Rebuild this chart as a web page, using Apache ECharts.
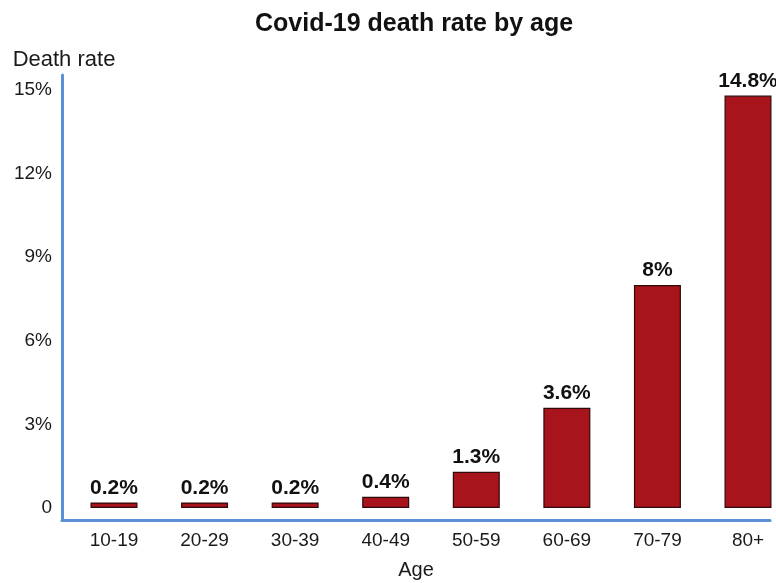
<!DOCTYPE html>
<html>
<head>
<meta charset="utf-8">
<script src="https://cdn.jsdelivr.net/npm/echarts@6/dist/echarts.min.js"></script>
<style>
  html, body { margin: 0; padding: 0; background: #fff; }
  #chart { width: 776px; height: 583px; }
</style>
</head>
<body>
<div id="chart"></div>
<script>
// Age groups and their death rates (%)
const ageGroups = ['10-19', '20-29', '30-39', '40-49', '50-59', '60-69', '70-79', '80+'];
const deathRates = [0.2, 0.2, 0.2, 0.4, 1.3, 3.6, 8, 14.8];
const rateTicks = [0, 3, 6, 9, 12, 15];

const FONT = '"Liberation Sans", Arial, Helvetica, sans-serif';
const AXIS_BLUE = '#5b8fd6';
const RATE_MIN = -0.43;
const RATE_MAX = 15.54;

const chart = echarts.init(document.getElementById('chart'), null, { renderer: 'canvas' });

chart.setOption({
  backgroundColor: '#ffffff',
  animation: false,
  title: {
    text: 'Covid-19 death rate by age',
    left: 250,
    top: 7,
    textStyle: { fontFamily: FONT, fontSize: 25, fontWeight: 'bold', color: '#111' }
  },
  grid: [
    // bar area: first and last category sit on the grid edges
    { left: 114, right: 28, top: 75, bottom: 63, containLabel: false, outerBoundsMode: 'none' },
    // frame carrying the blue axis lines and the rate labels
    { left: 62, right: 6, top: 75, bottom: 63, containLabel: false, outerBoundsMode: 'none' }
  ],
  xAxis: [
    {
      type: 'category',
      gridIndex: 0,
      data: ageGroups,
      boundaryGap: false,
      axisLine: { show: false, onZero: false },
      axisTick: { show: false },
      splitLine: { show: false },
      axisLabel: { fontFamily: FONT, fontSize: 19, color: '#1a1a1a', margin: 11 }
    },
    {
      type: 'value',
      gridIndex: 1,
      min: 0, max: 1,
      name: 'Age',
      nameLocation: 'middle',
      nameGap: 40,
      nameTextStyle: { fontFamily: FONT, fontSize: 20, color: '#1a1a1a' },
      axisLine: { show: true, onZero: false, lineStyle: { color: AXIS_BLUE, width: 3 } },
      axisTick: { show: false },
      axisLabel: { show: false },
      splitLine: { show: false }
    }
  ],
  yAxis: [
    {
      type: 'value',
      gridIndex: 0,
      min: RATE_MIN,
      max: RATE_MAX,
      show: false
    },
    {
      type: 'value',
      gridIndex: 1,
      min: RATE_MIN,
      max: RATE_MAX,
      name: 'Death rate',
      nameLocation: 'end',
      nameGap: 4,
      nameTextStyle: { fontFamily: FONT, fontSize: 22, color: '#1a1a1a', align: 'center', padding: [0, 0, 0, 4] },
      axisLine: { show: true, onZero: false, lineStyle: { color: AXIS_BLUE, width: 3 } },
      axisTick: { show: false },
      splitLine: { show: false },
      axisLabel: {
        customValues: rateTicks,
        fontFamily: FONT,
        fontSize: 19,
        color: '#1a1a1a',
        margin: 10,
        formatter: v => (v === 0 ? '0' : v + '%')
      }
    }
  ],
  series: [
    {
      type: 'bar',
      xAxisIndex: 0,
      yAxisIndex: 0,
      data: deathRates,
      barWidth: 47,
      clip: false,
      itemStyle: { color: '#a8141c', borderColor: '#2e0a0a', borderWidth: 1.2 },
      label: {
        show: true,
        position: 'top',
        distance: 4,
        fontFamily: FONT,
        fontSize: 21,
        fontWeight: 'bold',
        color: '#111',
        formatter: p => p.value + '%'
      }
    }
  ]
});
</script>
</body>
</html>
